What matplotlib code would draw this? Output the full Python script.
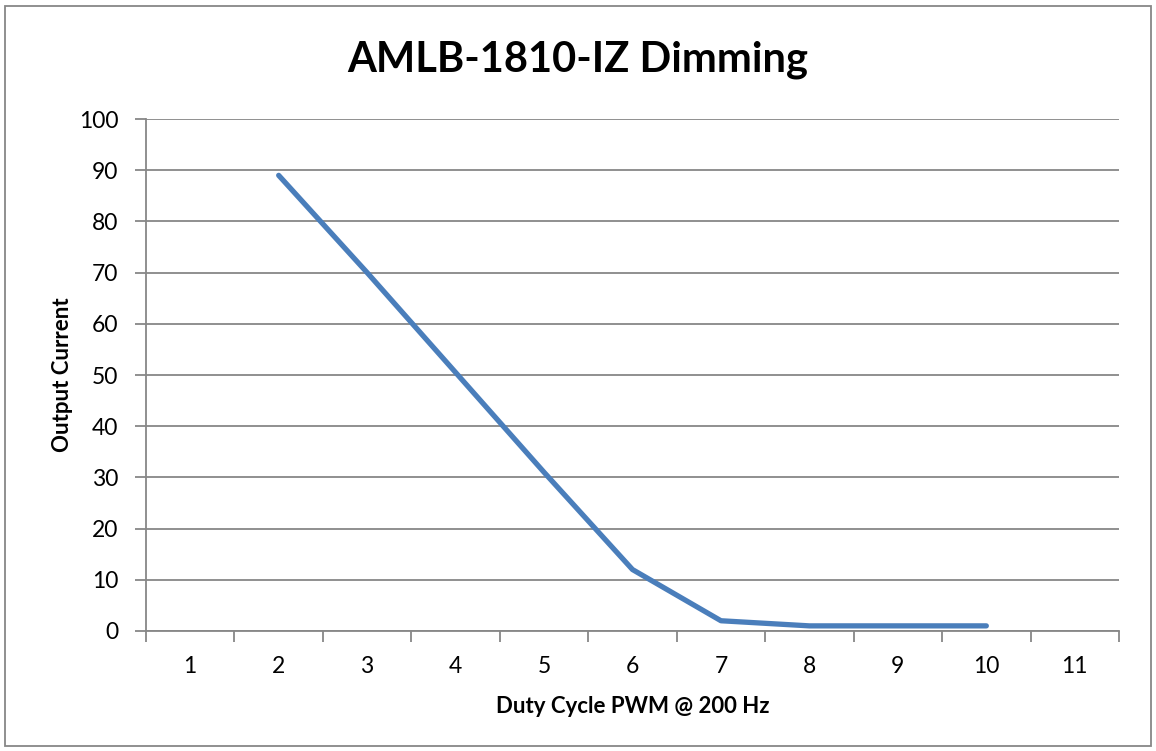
import matplotlib
matplotlib.use("Agg")
import matplotlib.pyplot as plt
from matplotlib.patches import Rectangle
import numpy as np

# Data
categories = [1, 2, 3, 4, 5, 6, 7, 8, 9, 10, 11]
duty = [2, 3, 4, 5, 6, 7, 8, 9, 10]
current = [89, 70, 50.5, 31, 12, 2, 1, 1, 1]

LINE = "#4A7EBB"
GRID = "#878787"

plt.rcParams["font.family"] = ["Lato", "DejaVu Sans"]

fig = plt.figure(figsize=(11.56, 7.51), dpi=100)
ax = fig.add_axes([0.1263, 0.1598, 0.8417, 0.6817])

ax.plot(duty, current, color=LINE, linewidth=3.8, solid_capstyle="round",
        solid_joinstyle="round", zorder=3)

ax.set_xlim(0.5, len(categories) + 0.5)
ax.set_ylim(0, 100)
ax.set_yticks(np.arange(0, 101, 10))
ax.set_xticks(categories)
ax.set_xticklabels([str(c) for c in categories])
ax.set_xticks(np.arange(0.5, len(categories) + 1, 1), minor=True)

ax.grid(axis="y", color=GRID, linewidth=1.3, zorder=1)
for s in ["top", "right"]:
    ax.spines[s].set_visible(False)
for s in ["left", "bottom"]:
    ax.spines[s].set_color(GRID)
    ax.spines[s].set_linewidth(1.3)

ax.tick_params(axis="x", which="major", length=0, pad=18, labelsize=16.5)
ax.tick_params(axis="x", which="minor", length=8, width=1.3, color=GRID)
ax.tick_params(axis="y", length=8, width=1.3, color=GRID, pad=12, labelsize=16.5)

ax.set_xlabel("Duty Cycle PWM @ 200 Hz", fontsize=16, fontweight="bold", labelpad=14)
ax.set_ylabel("Output Current", fontsize=16, fontweight="bold", labelpad=4)

fig.text(0.5, 0.921, "AMLB-1810-IZ Dimming", ha="center", va="center",
         fontsize=30, fontweight="bold")

# outer chart border
fig.patches.append(Rectangle((0.004, 0.006), 0.992, 0.986, transform=fig.transFigure,
                             fill=False, edgecolor=GRID, linewidth=1.3))

fig.savefig("out.png", dpi=100)
